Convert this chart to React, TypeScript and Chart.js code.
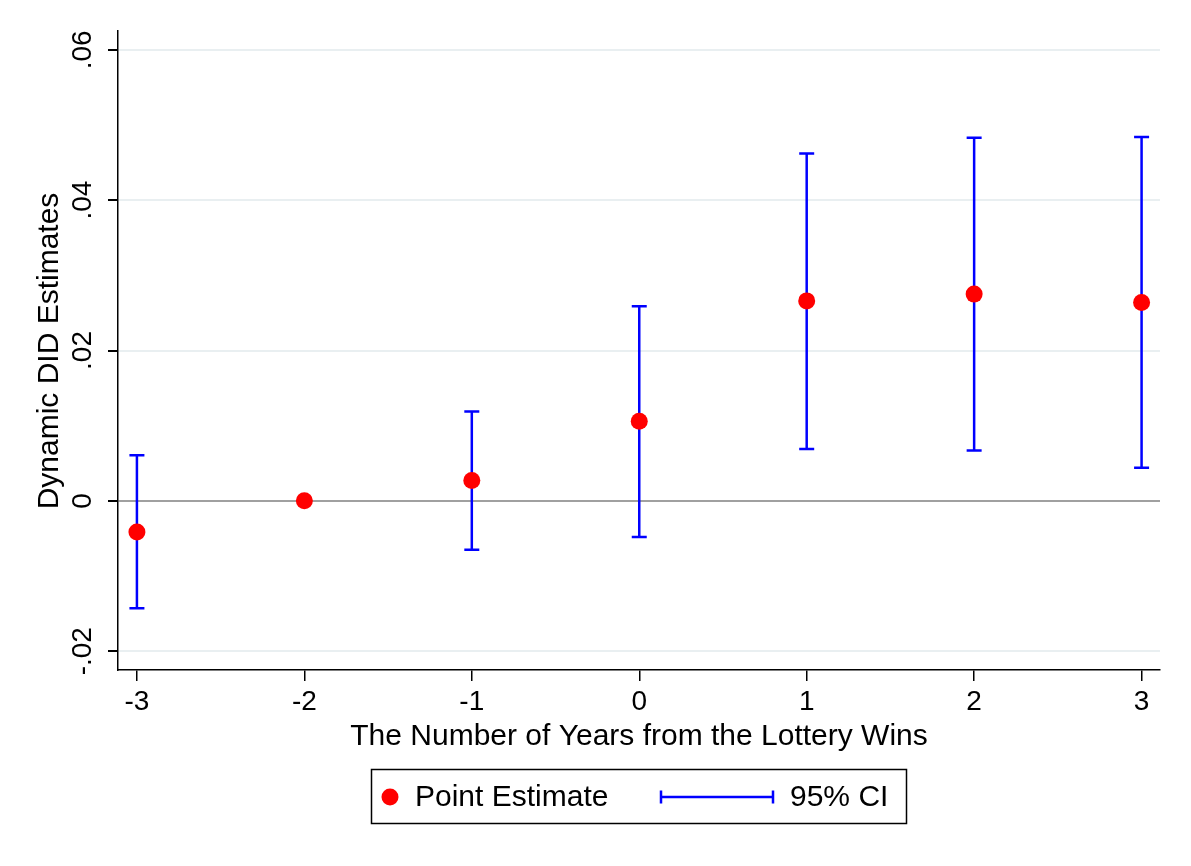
import React, { useEffect, useRef } from "react";
import { Chart, registerables } from "chart.js";

Chart.register(...registerables);

const years = [-3, -2, -1, 0, 1, 2, 3];
const pointEstimates = [-0.00415, 0, 0.0027, 0.0106, 0.0266, 0.0275, 0.0264];
const ciLower: (number | null)[] = [-0.0143, null, -0.0065, -0.0048, 0.0069, 0.0067, 0.0044];
const ciUpper: (number | null)[] = [0.00605, null, 0.0119, 0.0259, 0.0462, 0.0483, 0.0484];
const yTickValues = [-0.02, 0, 0.02, 0.04, 0.06];
const yTickLabels = ["-.02", "0", ".02", ".04", ".06"];
const xTickValues = [-3, -2, -1, 0, 1, 2, 3];
const xTitle = "The Number of Years from the Lottery Wins";
const yTitle = "Dynamic DID Estimates";
const legendPointLabel = "Point Estimate";
const legendCiLabel = "95% CI";

const FONT = "'Liberation Sans', Arial, Helvetica, sans-serif";

const decorPlugin = {
  id: "decor",
  beforeDatasetsDraw(chart: any) {
    const ctx = chart.ctx;
    const xs = chart.scales.x;
    const ys = chart.scales.y;
    ctx.save();
    ctx.strokeStyle = "#0000ff";
    ctx.lineWidth = 2.5;
    const capHalf = 7.5;
    years.forEach((yr, i) => {
      const lo = ciLower[i];
      const hi = ciUpper[i];
      if (lo === null || hi === null) return;
      const px = xs.getPixelForValue(yr);
      const pLo = ys.getPixelForValue(lo);
      const pHi = ys.getPixelForValue(hi);
      ctx.beginPath();
      ctx.moveTo(px, pLo);
      ctx.lineTo(px, pHi);
      ctx.moveTo(px - capHalf, pLo);
      ctx.lineTo(px + capHalf, pLo);
      ctx.moveTo(px - capHalf, pHi);
      ctx.lineTo(px + capHalf, pHi);
      ctx.stroke();
    });
    ctx.restore();
  },
  afterDraw(chart: any) {
    const ctx = chart.ctx;
    const ys = chart.scales.y;
    ctx.save();
    ctx.fillStyle = "#000";
    // y tick labels, rotated
    ctx.font = `28px ${FONT}`;
    ctx.textAlign = "center";
    ctx.textBaseline = "middle";
    yTickValues.forEach((v, i) => {
      const py = ys.getPixelForValue(v);
      ctx.save();
      ctx.translate(83, py);
      ctx.rotate(-Math.PI / 2);
      ctx.fillText(yTickLabels[i], 0, 0);
      ctx.restore();
    });
    // y title
    ctx.font = `30px ${FONT}`;
    ctx.save();
    ctx.translate(50, 351);
    ctx.rotate(-Math.PI / 2);
    ctx.fillText(yTitle, 0, 0);
    ctx.restore();
    // x title
    ctx.fillText(xTitle, 639, 737);
    // legend box
    ctx.strokeStyle = "#000";
    ctx.lineWidth = 1.5;
    ctx.strokeRect(371.5, 769.5, 535, 54);
    ctx.fillStyle = "#ff0000";
    ctx.beginPath();
    ctx.arc(390, 797, 8.5, 0, Math.PI * 2);
    ctx.fill();
    ctx.fillStyle = "#000";
    ctx.textAlign = "left";
    ctx.font = `30px ${FONT}`;
    ctx.fillText(legendPointLabel, 415, 798);
    ctx.strokeStyle = "#0000ff";
    ctx.lineWidth = 2.5;
    ctx.beginPath();
    ctx.moveTo(661, 797);
    ctx.lineTo(773, 797);
    ctx.moveTo(661, 790.5);
    ctx.lineTo(661, 803.5);
    ctx.moveTo(773, 790.5);
    ctx.lineTo(773, 803.5);
    ctx.stroke();
    ctx.fillStyle = "#000";
    ctx.fillText(legendCiLabel, 790, 798);
    ctx.restore();
  },
};

export default function App() {
  const ref = useRef<HTMLCanvasElement | null>(null);
  useEffect(() => {
    if (!ref.current) return;
    Chart.defaults.font.family = FONT;
    Chart.defaults.color = "#000";
    const chart = new Chart(ref.current, {
      type: "scatter",
      data: {
        datasets: [
          {
            label: legendPointLabel,
            data: years.map((x, i) => ({ x, y: pointEstimates[i] })),
            backgroundColor: "#ff0000",
            borderWidth: 0,
            pointRadius: 8.5,
            pointHoverRadius: 8.5,
          },
        ],
      },
      options: {
        animation: false,
        responsive: false,
        maintainAspectRatio: false,
        layout: { padding: { top: 31, right: 31, left: 0, bottom: 0 } },
        plugins: { legend: { display: false }, tooltip: { enabled: false } },
        scales: {
          x: {
            type: "linear",
            min: -3.113,
            max: 3.11,
            afterBuildTicks: (s: any) => {
              s.ticks = xTickValues.map((v) => ({ value: v }));
            },
            afterFit: (s: any) => {
              s.height = 196;
            },
            ticks: {
              font: { size: 28 },
              color: "#000",
              padding: 4,
              maxRotation: 0,
              minRotation: 0,
              callback: (v: any) => String(v),
            },
            grid: {
              drawOnChartArea: false,
              drawTicks: true,
              tickLength: 11,
              tickColor: "#000",
              lineWidth: 1.5,
            },
            border: { display: true, color: "#000", width: 1.5 },
          },
          y: {
            type: "linear",
            min: -0.0225,
            max: 0.0625,
            afterBuildTicks: (s: any) => {
              s.ticks = yTickValues.map((v) => ({ value: v }));
            },
            afterFit: (s: any) => {
              s.width = 118;
            },
            ticks: { display: false },
            grid: {
              drawTicks: true,
              tickLength: 10,
              tickColor: "#000",
              color: (c: any) => (c.tick && c.tick.value === 0 ? "#a0a0a0" : "#e9eff1"),
              lineWidth: 2,
            },
            border: { display: true, color: "#000", width: 1.5 },
          },
        },
      },
      plugins: [decorPlugin],
    });
    return () => chart.destroy();
  }, []);
  return (
    <div style={{ position: "absolute", left: 0, top: 0, width: 1191, height: 866, background: "#fff" }}>
      <canvas ref={ref} width={1191} height={866} style={{ width: 1191, height: 866 }} />
    </div>
  );
}
